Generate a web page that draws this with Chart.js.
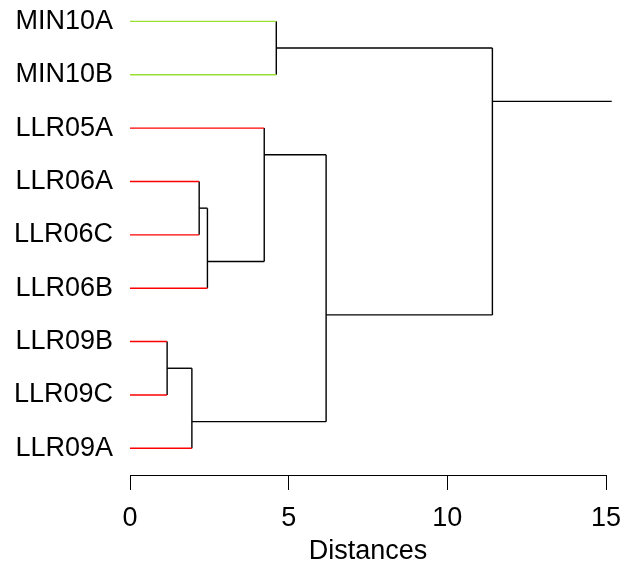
<!DOCTYPE html>
<html>
<head>
<meta charset="utf-8">
<script src="https://cdn.jsdelivr.net/npm/chart.js@4/dist/chart.umd.min.js"></script>
<style>
  html, body { margin: 0; padding: 0; background: #ffffff; }
  canvas { display: block; }
</style>
</head>
<body>
<canvas id="dendro" width="628" height="569"></canvas>
<script>
// Leaves in display order (top to bottom)
const leafLabels = ['MIN10A', 'MIN10B', 'LLR05A', 'LLR06A', 'LLR06C', 'LLR06B', 'LLR09B', 'LLR09C', 'LLR09A'];
const leafGroups = ['MIN', 'MIN', 'LLR', 'LLR', 'LLR', 'LLR', 'LLR', 'LLR', 'LLR'];
const groupColors = { MIN: '#9AE034', LLR: '#FF0000' };

// hclust-style merge table: negative = leaf (1-based position), positive = earlier merge
const mergePairs = [[-7, -8], [1, -9], [-4, -5], [3, -6], [-3, 4], [-1, -2], [5, 2], [6, 7]];
const mergeHeights = [1.17, 1.95, 2.18, 2.44, 4.23, 4.61, 6.18, 11.42];
const rootEdgeEnd = 15.18;
const distanceTicks = [0, 5, 10, 15];

const FONT = 'Liberation Sans, Arial, Helvetica, sans-serif';
const INK = '#000000';

// Resolve each node: height, position, first leaf, colour of its edge
const merged = [];
function nodeOf(ref) {
  if (ref < 0) {
    const k = -ref;
    return { height: 0, pos: k, firstLeaf: k, color: groupColors[leafGroups[k - 1]] };
  }
  return merged[ref - 1];
}
const segments = [];
mergePairs.forEach((pair, j) => {
  const a = nodeOf(pair[0]);
  const b = nodeOf(pair[1]);
  const [left, right] = a.firstLeaf < b.firstLeaf ? [a, b] : [b, a];
  const h = mergeHeights[j];
  const node = { height: h, pos: right.firstLeaf - 0.5, firstLeaf: left.firstLeaf, color: INK };
  [left, right].forEach(c => {
    segments.push({ pts: [{ x: c.height, y: c.pos }, { x: h, y: c.pos }], color: c.color });
  });
  segments.push({ pts: [{ x: h, y: left.pos }, { x: h, y: right.pos }], color: INK });
  merged.push(node);
});
const root = merged[merged.length - 1];
segments.push({ pts: [{ x: root.height, y: root.pos }, { x: rootEdgeEnd, y: root.pos }], color: INK });

// Draw black edges last so the joins sit on top of coloured leaf edges
segments.sort((p, q) => (p.color === INK) - (q.color === INK));

const datasets = segments.map(s => ({
  data: s.pts,
  showLine: true,
  borderColor: s.color,
  borderWidth: 1.4,
  borderCapStyle: 'butt',
  pointRadius: 0,
  pointHoverRadius: 0,
  fill: false,
  clip: false
}));

new Chart(document.getElementById('dendro'), {
  type: 'scatter',
  data: { datasets },
  options: {
    responsive: false,
    animation: false,
    events: [],
    layout: { padding: { left: 0, top: 0, right: 22, bottom: 0 } },
    plugins: { legend: { display: false }, tooltip: { enabled: false } },
    scales: {
      x: {
        type: 'linear',
        min: 0,
        max: 15,
        afterBuildTicks: s => { s.ticks = distanceTicks.map(v => ({ value: v })); },
        afterFit: s => { s.height = 94; s.paddingLeft = 0; s.paddingRight = 0; },
        grid: { display: true, drawOnChartArea: false, drawTicks: true, tickLength: 15, color: INK, tickColor: INK, lineWidth: 1 },
        border: { display: true, color: INK, width: 1 },
        ticks: { padding: 12, color: INK, font: { family: FONT, size: 27 }, maxRotation: 0, autoSkip: false },
        title: { display: true, text: 'Distances', color: INK, font: { family: FONT, size: 27 }, padding: { top: 0, bottom: 1 } }
      },
      y: {
        type: 'linear',
        reverse: true,
        min: 0.6,
        max: 9.5,
        afterBuildTicks: s => { s.ticks = leafLabels.map((_, i) => ({ value: i + 1 })); },
        afterFit: s => { s.width = 130; s.paddingTop = 0; s.paddingBottom = 0; },
        grid: { display: false, drawTicks: false },
        border: { display: false },
        ticks: {
          padding: 17,
          color: INK,
          autoSkip: false,
          font: { family: FONT, size: 27 },
          callback: v => leafLabels[Math.round(v) - 1] || ''
        }
      }
    }
  }
});
</script>
</body>
</html>
